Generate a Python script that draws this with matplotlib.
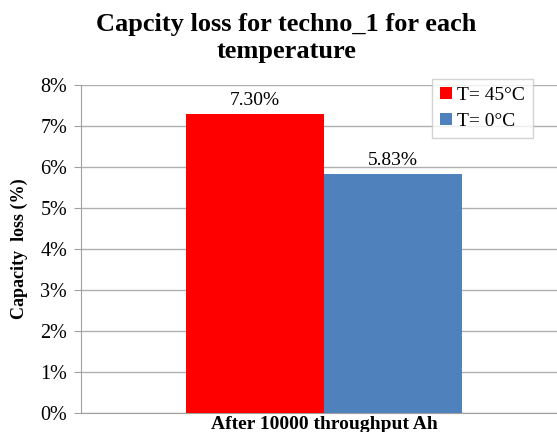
import matplotlib
matplotlib.use("Agg")
import matplotlib.pyplot as plt
from matplotlib.ticker import FuncFormatter

plt.rcParams['font.family'] = ['Liberation Serif', 'DejaVu Serif']

category = ['After 10000 throughput Ah']
series = ['T= 45°C', 'T= 0°C']
values = [7.30, 5.83]
colors = ['#FF0000', '#4F81BD']

fig = plt.figure(figsize=(5.57, 4.32), dpi=100)
ax = fig.add_axes([0.1454, 0.044, 0.8546, 0.759])

w = 0.29
offsets = [-w / 2, w / 2]
for s, v, c, o in zip(series, values, colors, offsets):
    b = ax.bar(o, v, width=w, color=c, label=s, zorder=3)
    ax.text(o, v + 0.12, '%.2f%%' % v, ha='center', va='bottom', fontsize=14)

ax.set_xlim(-0.5105, 0.4895)
ax.set_ylim(0, 8)
ax.set_yticks(range(0, 9))
ax.yaxis.set_major_formatter(FuncFormatter(lambda y, p: '%d%%' % y))
ax.tick_params(axis='y', labelsize=14.5, length=5, color='#A0A0A0', pad=5)
ax.set_xticks([0])
ax.set_xticklabels(category, fontsize=14, fontweight='bold')
ax.tick_params(axis='x', length=0, pad=2)
ax.grid(axis='y', color='#B0B0B0', linewidth=1, zorder=0)
for sp in ['top', 'right']:
    ax.spines[sp].set_visible(False)
ax.spines['left'].set_color('#A0A0A0')
ax.spines['bottom'].set_color('#A0A0A0')

ax.set_ylabel('Capacity  loss (%)', fontsize=13, fontweight='bold')
ax.yaxis.set_label_coords(-0.112, 0.5)
fig.suptitle('Capcity loss for techno_1 for each\ntemperature', fontsize=19,
             fontweight='bold', x=0.514, y=0.97, linespacing=1.25)

leg = ax.legend(loc='upper right', bbox_to_anchor=(0.9496, 1.018), borderaxespad=0,
                fontsize=14, frameon=True, fancybox=False, handlelength=0.6,
                handleheight=0.6, handletextpad=0.3, borderpad=0.4, labelspacing=0.45)
leg.get_frame().set_edgecolor('#C8C8C8')
leg.get_frame().set_linewidth(1)

fig.savefig('out.png', dpi=100)
